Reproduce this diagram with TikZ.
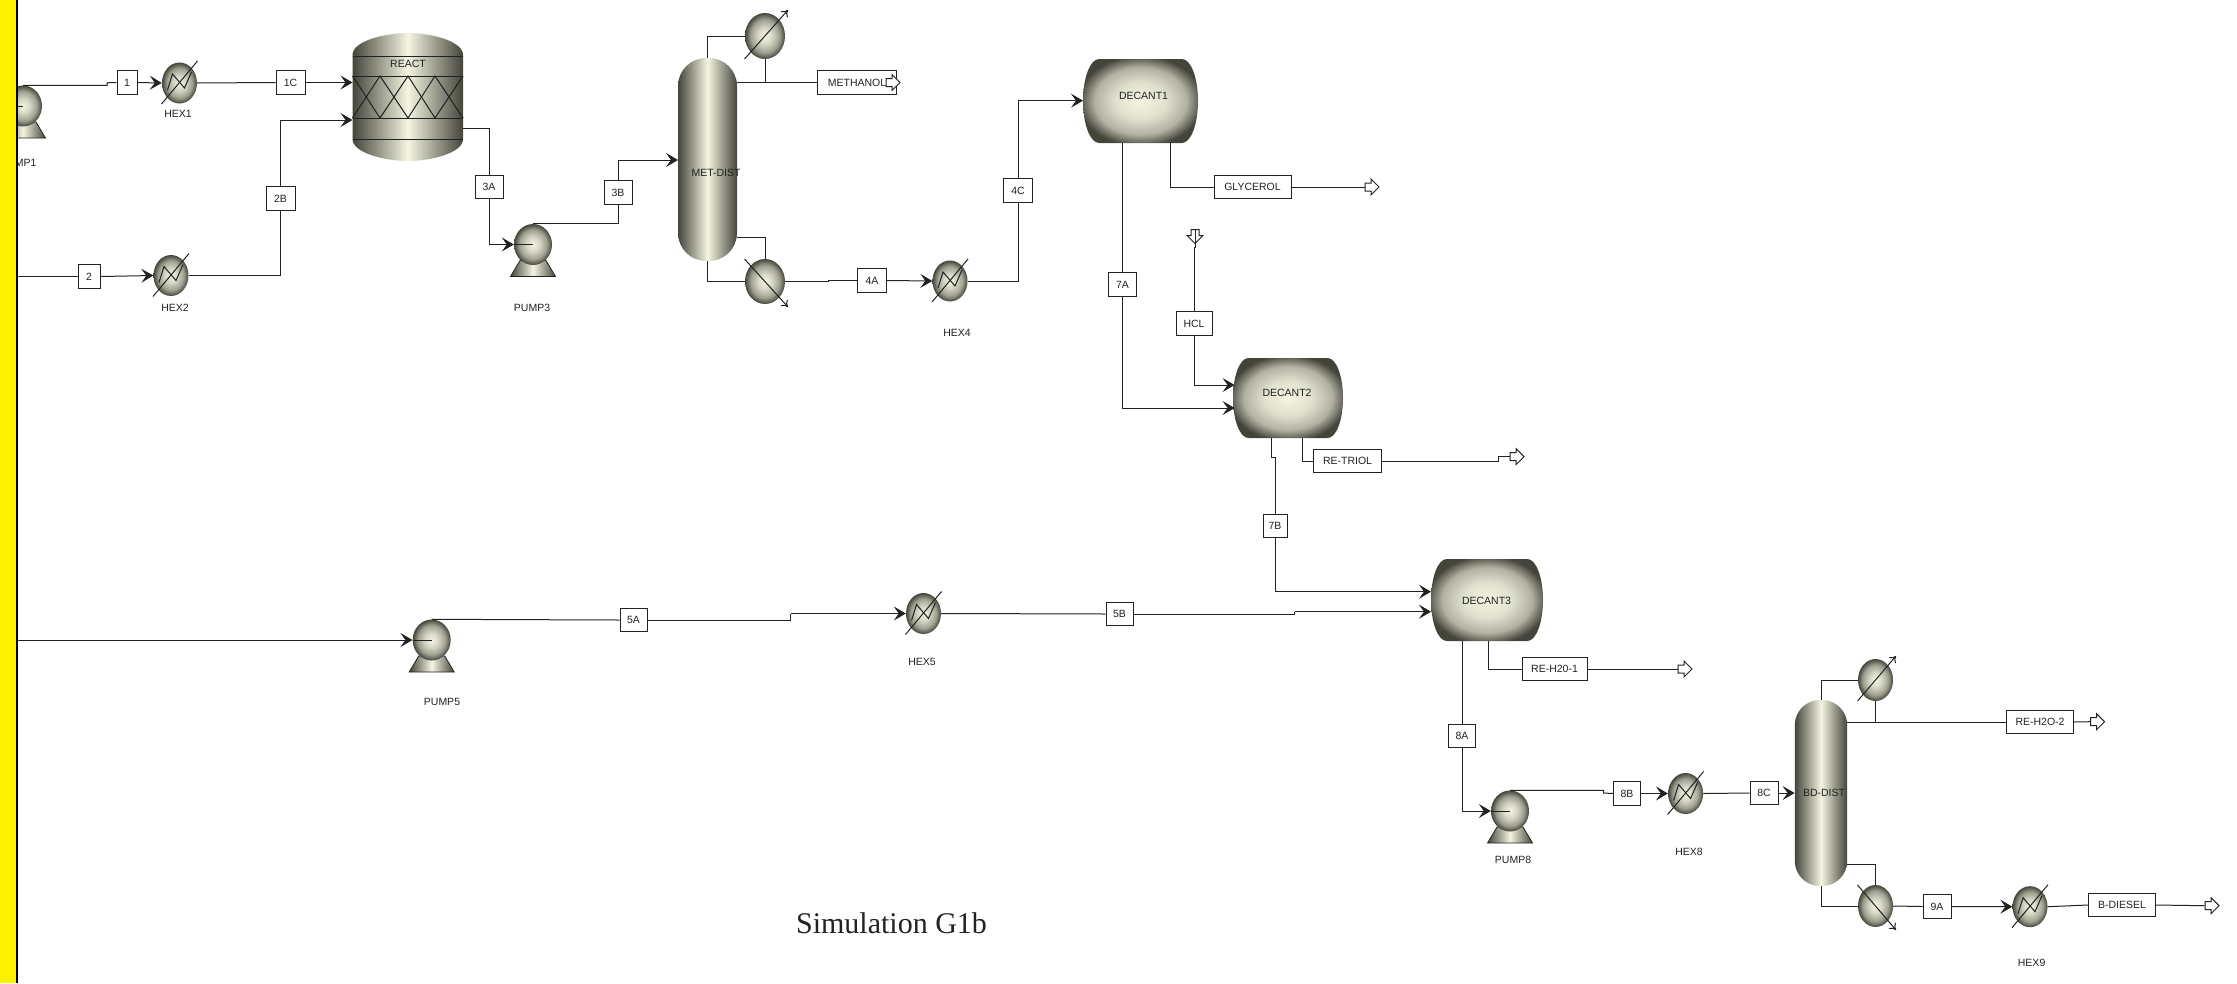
\documentclass[tikz,border=0pt]{standalone}
\usepackage{fontspec}
\setmainfont{Liberation Sans}
\newfontfamily\titlefont{Liberation Serif}
\usepackage{xcolor}
\usetikzlibrary{shapes.geometric, shapes.arrows, arrows.meta, positioning, calc}

\definecolor{rim}{HTML}{44443A}
\definecolor{glow}{HTML}{F5F5E2}
\definecolor{ink}{HTML}{222222}
\pgfdeclareradialshading{ballshade}{\pgfpoint{0bp}{0bp}}{color(0bp)=(glow);color(9bp)=(glow!82!rim);color(18bp)=(glow!52!rim);color(25bp)=(rim);color(50bp)=(rim)}
\pgfdeclareradialshading{drumshade}{\pgfpoint{0bp}{0bp}}{color(0bp)=(glow);color(11bp)=(glow!88!rim);color(20bp)=(glow!62!rim);color(27bp)=(rim);color(50bp)=(rim)}

\tikzset{
  pipe/.style={draw=ink, line width=1pt},
  stream/.style={pipe, -{Stealth[length=12pt,width=14pt,inset=5pt]}},
  tag/.style={draw=ink, fill=white, line width=1pt, minimum height=23.5pt, inner sep=0pt, font=\fontsize{10.5}{11}\selectfont, text=ink},
  caption/.style={font=\fontsize{10.5}{11}\selectfont, text=ink, inner sep=0pt},
  ball/.style={ellipse, inner sep=0pt, shading=ballshade},
  pumpball/.style={ball, minimum width=38pt, minimum height=41pt},
  hexball/.style={ball, minimum width=35pt, minimum height=41pt},
  column/.style={rectangle, inner sep=0pt, left color=rim, right color=rim, middle color=glow},
  outlet/.style={single arrow, draw=ink, fill=white, line width=1pt, inner xsep=0pt, inner ysep=3.5pt, minimum height=14pt, single arrow head extend=4pt},
  decant outline/.style={insert path={(-.36,-.5) -- (.36,-.5) .. controls (.44,-.5) and (.5,-.27) .. (.5,0) .. controls (.5,.27) and (.44,.5) .. (.36,.5) -- (-.36,.5) .. controls (-.44,.5) and (-.5,.27) .. (-.5,0) .. controls (-.5,-.27) and (-.44,-.5) .. (-.36,-.5) -- cycle}},
}

\begin{document}
\begin{tikzpicture}[x=1pt,y=-1pt]
\useasboundingbox (0,0) rectangle (2237,983);

% Reactor
\shade[left color=rim, right color=rim, middle color=glow]
  (352.5,55) .. controls (352.5,41) and (385,33) .. (408,33) .. controls (431,33) and (463,41) .. (463,55)
  -- (463,139) .. controls (463,153) and (431,161) .. (408,161) .. controls (385,161) and (352.5,153) .. (352.5,139) -- cycle;
\foreach \y in {56,76,118,139} {
  \draw[ink, line width=1pt] (352.5,\y) -- (463,\y);
}
\draw[ink, line width=1pt] (352.5,76) -- (380,118) -- (408,76) -- (435,118) -- (463,76);
\draw[ink, line width=1pt] (352.5,118) -- (380,76) -- (408,118) -- (435,76) -- (463,118);
\coordinate (r1) at (352.5,82.5);
\coordinate (r2) at (352.5,120);
\coordinate (rout) at (463,128);

% Decanters
\foreach \n/\cx/\cy/\w/\h in {dec1/1140.5/101/115/84, dec2/1288/398/110/80, dec3/1487/600/112/82} {
  \begin{scope}[shift={(\cx,\cy)},x=\w pt,y=\h pt]
    \shade[shading=drumshade, decant outline];
  \end{scope}
  \node[minimum width=\w pt, minimum height=\h pt, inner sep=0pt] (\n) at (\cx,\cy) {};
}
\coordinate (d1in) at (1083,100.7);
\coordinate (d1a) at (1122.5,143);
\coordinate (d1b) at (1170,143);
\coordinate (d2in1) at (1234.6,385);
\coordinate (d2in2) at (1234.6,408);
\coordinate (d2a) at (1271,438);
\coordinate (d2b) at (1302.5,438);
\coordinate (d3in1) at (1431,591.7);
\coordinate (d3in2) at (1431,611.7);
\coordinate (d3a) at (1462,641);
\coordinate (d3b) at (1488,641);

% Columns
\node[column, minimum width=59pt, minimum height=203pt, rounded corners=28pt] (mdist) at (707.5,159.5) {};
\node[column, minimum width=52.4pt, minimum height=186pt, rounded corners=25pt] (bdist) at (1821,793) {};
\coordinate (mfeed) at (678,160);
\coordinate (mback) at (737,237);
\coordinate (bback) at (1847,864);

% Pumps
\foreach \n/\x/\y in {pump1/23/106, pump3/533/244.5, pump5/431.7/640, pump8/1510/811} {
  \shade[left color=rim, right color=rim, middle color=glow, draw=ink, line width=.8pt]
    (\x-13,\y+16) -- (\x+13,\y+16) -- (\x+22.5,\y+32) -- (\x-22.5,\y+32) -- cycle;
  \node[pumpball] (\n) at (\x,\y) {};
}

% Heaters
\foreach \n/\x/\y in {hex1/179.5/83, hex2/171/275.5, hex4/950/281, hex5/923.5/613.5, hex8/1685.6/793.5, hex9/2030/906.7} {
  \node[hexball] (\n) at (\x,\y) {};
  \draw[ink, line width=1pt] (\x-18,\y+21) -- (\x+18,\y-22);
  \draw[ink, line width=1pt] (\x-12,\y+7) -- (\x-7,\y-9) -- (\x+5,\y+5) -- (\x+12,\y-11);
}

% Condensers and reboilers
\foreach \n/\x/\y/\w/\h/\dy in {mcond/765/36/40/46/-1, mreb/765/281.5/40/45/1, bcond/1875.5/680/35/42/-1, breb/1875.5/906/35/42/1} {
  \node[ball, minimum width=\w pt, minimum height=\h pt] (\n) at (\x,\y) {};
  \draw[draw=ink, line width=1pt, -{To[length=6pt,width=9pt]}]
    (\x-\w/2-.5,\y-\dy*\h/2) -- (\x+\w/2+3,\y+\dy*\h/2+\dy*3);
}

% Stream boxes
\foreach \n/\x/\y/\w/\t in {
  s1/127/82.5/20/1, s1c/290.5/82.5/29/1C, s2/89/276.5/22/2, s2b/280.5/198.5/29/2B,
  s3a/489/187/28/3A, s3b/618/192.5/28/3B, smeth/857/82.5/78.5/METHANOL, s4a/872/280.5/29/4A,
  s4c/1018/190.5/29/4C, sglyc/1252.5/187/77/GLYCEROL, s7a/1122.5/284.7/28/7A, shcl/1194/323.5/36/HCL,
  sretr/1347.5/461/68/RE-TRIOL, s7b/1275/526/24/7B, s5a/633.5/620/27/5A, s5b/1119.5/614/27/5B,
  srewa/1554.5/669/65/RE-H20-1, s8a/1462/736/27/8A, s8b/1627/793.5/27/8B, s8c/1764/793/28/8C,
  srewb/2040/722/67/RE-H2O-2, s9a/1937/906.5/28/9A, sbd/2122/905/66.5/B-DIESEL}
{
  \node[tag, minimum width=\w pt] (\n) at (\x,\y) {\t};
}

% Outlets
\foreach \n/\x/\y in {omet/891/82.5, oglyc/1370/187, otri/1515/456.7, orewa/1683/669, orewb/2095.5/721.7, obd/2210/905.7} {
  \node[outlet] (\n) at (\x,\y) {};
}
\node[outlet, rotate=-90] (ohcl) at (1195,234.5) {};

% Names of the units
\foreach \n/\x/\y/\t in {
  lpump1/18.5/163/PUMP1, lhex1/178/114/HEX1, lhex2/175/308/HEX2, lpump3/532/308/PUMP3,
  lhex4/957/333/HEX4, lpump5/442/702/PUMP5, lhex5/922/662/HEX5, lpump8/1513/860/PUMP8,
  lhex8/1689/852/HEX8, lhex9/2031.6/963/HEX9, lreact/408/64/REACT, lmdist/716/172.6/MET-DIST,
  ldec1/1143.5/96/DECANT1, ldec2/1287/393/DECANT2, ldec3/1486.5/600.7/DECANT3, lbdist/1824/793/BD-DIST}
{
  \node[caption] (\n) at (\x,\y) {\t};
}

% Edge of the page
\coordinate (edge1) at (17,106);
\coordinate (edge2) at (17,276.5);
\coordinate (edge5) at (17,640);

% Connections
\draw[pipe] (edge1) -- (pump1.center);
\draw[pipe] (pump1.north) -- ++(84,0) -- ++(0,-2.5) -- (s1.west);
\draw[stream] (s1.east) -- (hex1.west);
\draw[pipe] (hex1.east) -- (s1c.west);
\draw[stream] (s1c.east) -- (r1);
\draw[pipe] (edge2) -- (s2.west);
\draw[stream] (s2.east) -- (hex2.west);
\draw[pipe] (hex2.east) -| (s2b.south);
\draw[stream] (s2b.north) |- (r2);
\draw[pipe] (rout) -| (s3a.north);
\draw[stream] (s3a.south) |- (pump3.west);
\draw[pipe] (pump3.west) -- (pump3.center);
\draw[pipe] (pump3.north) -| (s3b.south);
\draw[stream] (s3b.north) |- (mfeed);
\draw[pipe] (mdist.north) |- (mcond.west);
\draw[pipe] (mcond.south) -- (mcond.south |- smeth.west);
\draw[pipe] (mdist.east |- smeth.west) -- (smeth.west);
\draw[pipe] (mback) -| (mreb.north);
\draw[pipe] (mdist.south) |- (mreb.west);
\draw[pipe] (mreb.east) -- ++(43,0) -- ++(0,-1) -- (s4a.west);
\draw[stream] (s4a.east) -- (hex4.west);
\draw[pipe] (hex4.east) -| (s4c.south);
\draw[stream] (s4c.north) |- (d1in);
\draw[pipe] (d1a) -- (s7a.north);
\draw[stream] (s7a.south) |- (d2in2);
\draw[pipe] (d1b) |- (sglyc.west);
\draw[pipe] (sglyc.east) -- (oglyc.tail);
\draw[pipe] (ohcl.tail) -- ++(0,18) -- ++(-1,0) -- (shcl.north);
\draw[stream] (shcl.south) |- (d2in1);
\draw[pipe] (d2a) -- ++(0,19) -- ++(4,0) -- (s7b.north);
\draw[stream] (s7b.south) |- (d3in1);
\draw[pipe] (d2b) |- (sretr.west);
\draw[pipe] (sretr.east) -- ++(116.5,0) -- ++(0,-4.3) -- (otri.tail);
\draw[stream] (edge5) -- (pump5.west);
\draw[pipe] (pump5.west) -- (pump5.center);
\draw[pipe] (pump5.north) -- (s5a.west);
\draw[pipe] (s5a.east) -- ++(143,0) -- ++(0,-6.5) coordinate (s5bend);
\draw[stream] (s5bend) -- (hex5.west);
\draw[pipe] (hex5.east) -- (s5b.west);
\draw[pipe] (s5b.east) -- ++(161,0) -- ++(0,-2.3) coordinate (s5cbend);
\draw[stream] (s5cbend) -- (d3in2);
\draw[pipe] (d3a) -- (s8a.north);
\draw[stream] (s8a.south) |- (pump8.west);
\draw[pipe] (pump8.west) -- (pump8.center);
\draw[pipe] (d3b) |- (srewa.west);
\draw[pipe] (srewa.east) -- (orewa.tail);
\draw[pipe] (pump8.north) -- ++(93.5,0) -- ++(0,2.7) -- (s8b.west);
\draw[stream] (s8b.east) -- (hex8.west);
\draw[pipe] (hex8.east) -- (s8c.west);
\draw[stream] (s8c.east) -- (bdist.west);
\draw[pipe] (bdist.north) |- (bcond.west);
\draw[pipe] (bcond.south) -- (bcond.south |- srewb.west);
\draw[pipe] (bdist.east |- srewb.west) -- (srewb.west);
\draw[pipe] (srewb.east) -- (orewb.tail);
\draw[pipe] (bback) -| (breb.north);
\draw[pipe] (bdist.south) |- (breb.west);
\draw[pipe] (breb.east) -- (s9a.west);
\draw[stream] (s9a.east) -- (hex9.west);
\draw[pipe] (hex9.east) -- (sbd.west);
\draw[pipe] (sbd.east) -- (obd.tail);

\node[font=\titlefont\fontsize{30}{32}\selectfont, text=ink, inner sep=0pt] (title) at (891.5,923) {Simulation G1b};

% Yellow strip on the left
\fill[yellow] (0,0) rectangle (16,983);
\draw[black, line width=1.6pt] (16.8,0) -- (16.8,983);
\end{tikzpicture}
\end{document}
